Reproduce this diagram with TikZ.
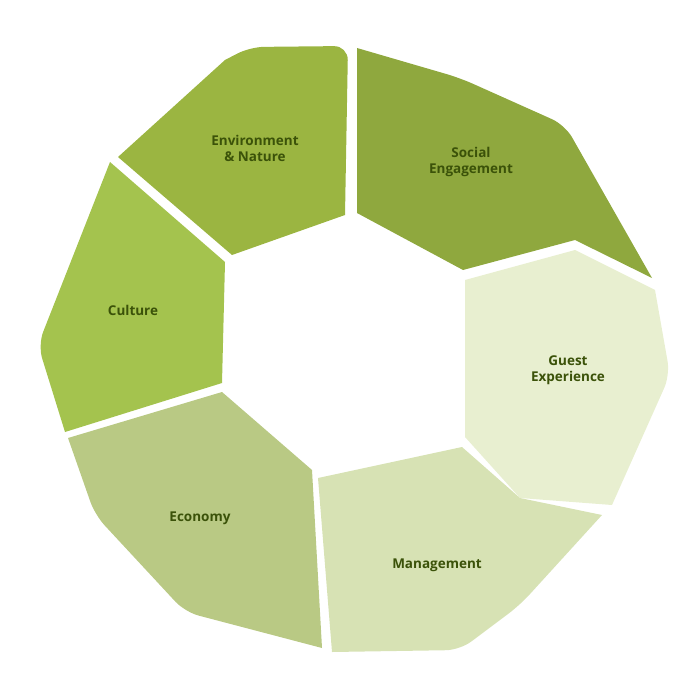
\documentclass[tikz,border=0pt]{standalone}
\usepackage{fontspec}
\setmainfont{Open Sans}
\begin{document}
\begin{tikzpicture}[x=1pt,y=-1pt,
 seg/.style={draw=none,rounded corners=14pt},
 lab/.style={font=\bfseries\fontsize{13.5}{16}\selectfont,text=txt,align=center}]
\definecolor{txt}{HTML}{3B5209}
\definecolor{cEnv}{HTML}{9BB541}
\definecolor{cSoc}{HTML}{8FA83E}
\definecolor{cGue}{HTML}{E8EFD0}
\definecolor{cMan}{HTML}{D7E2B4}
\definecolor{cEco}{HTML}{B9C984}
\definecolor{cCul}{HTML}{A4C34E}
\useasboundingbox (0,0) rectangle (700,700);
\fill[cEnv] (118,157) -- (225,60) [rounded corners=14pt]-- (250,47) -- (348,46) [sharp corners]-- (345,215) -- (232,255) -- cycle;
\fill[cSoc] (357,48) [rounded corners=14pt]-- (460,78) -- (565,125) [sharp corners]-- (652,278) -- (575,240) -- (463,270) -- (357,213) -- cycle;
\fill[cGue] (465,280) -- (575,250) -- (655,290) [rounded corners=14pt]-- (670,375) [sharp corners]-- (612,505) -- (520,498) -- (465,437) -- cycle;
\fill[cMan] (318,478) -- (462,447) -- (520,498) -- (602,515) [rounded corners=14pt]-- (520,605) -- (460,650) [sharp corners]-- (332,652) -- cycle;
\fill[cEco] (68,438) -- (222,392) -- (312,470) -- (322,648) [rounded corners=14pt]-- (185,612) -- (95,515) [sharp corners]-- cycle;
\fill[cCul] (110,162) -- (225,262) -- (222,383) -- (65,432) [rounded corners=14pt]-- (38,345) [sharp corners]-- cycle;
\node[lab] (env) at (255,148) {Environment\\\& Nature};
\node[lab] (soc) at (471,162) {Social\\Engagement};
\node[lab] (gue) at (568,370) {Guest\\Experience};
\node[lab] (man) at (437,565) {Management};
\node[lab] (eco) at (200,518) {Economy};
\node[lab] (cul) at (133,310) {Culture};
\end{tikzpicture}
\end{document}
